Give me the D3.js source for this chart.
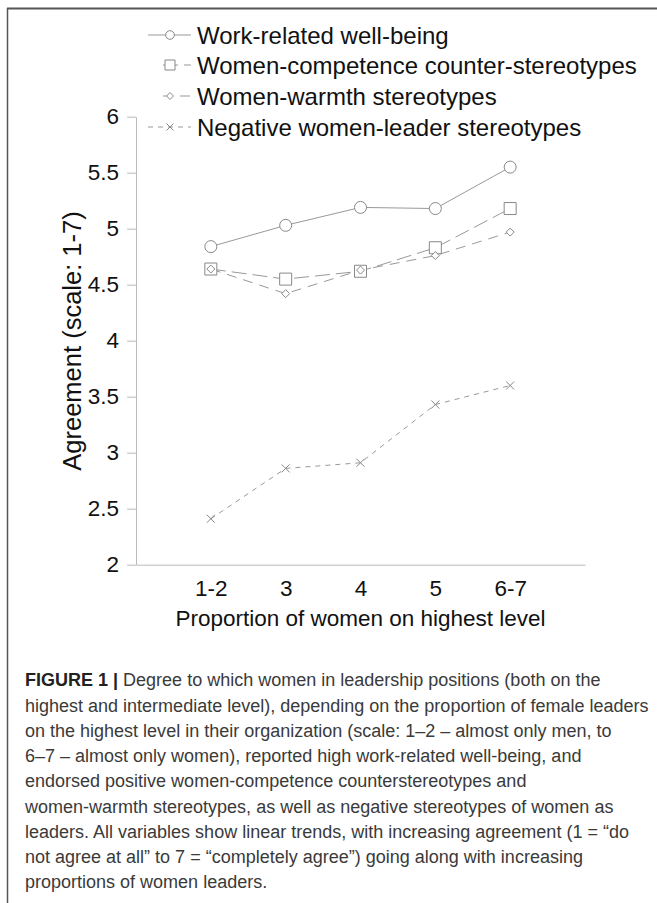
<!DOCTYPE html>
<html><head><meta charset="utf-8">
<script src="https://cdn.jsdelivr.net/npm/d3@7"></script>
<style>body{margin:0;background:#fff}svg{display:block}</style>
</head><body>
<svg id="c" width="657" height="903"></svg>
<script>
const categories = ["1-2", "3", "4", "5", "6-7"];
const wellBeing   = [4.84, 5.03, 5.19, 5.18, 5.55];
const competence  = [4.64, 4.55, 4.62, 4.83, 5.18];
const warmth      = [4.64, 4.42, 4.63, 4.76, 4.97];
const negative    = [2.41, 2.86, 2.91, 3.43, 3.60];
const seriesNames = ["Work-related well-being", "Women-competence counter-stereotypes", "Women-warmth stereotypes", "Negative women-leader stereotypes"];
const yTicks = [2, 2.5, 3, 3.5, 4, 4.5, 5, 5.5, 6];
const yTitle = "Agreement (scale: 1-7)";
const xTitle = "Proportion of women on highest level";
const captionBold = "FIGURE 1 |";
const captionLines = [
  " Degree to which women in leadership positions (both on the",
  "highest and intermediate level), depending on the proportion of female leaders",
  "on the highest level in their organization (scale: 1\u20132 \u2013 almost only men, to",
  "6\u20137 \u2013 almost only women), reported high work-related well-being, and",
  "endorsed positive women-competence counterstereotypes and",
  "women-warmth stereotypes, as well as negative stereotypes of women as",
  "leaders. All variables show linear trends, with increasing agreement (1 = \u201cdo",
  "not agree at all\u201d to 7 = \u201ccompletely agree\u201d) going along with increasing",
  "proportions of women leaders."
];

const svg = d3.select("#c");
const FONT = "'Liberation Sans', Arial, Helvetica, sans-serif";
const FS = 22.5;
const FS_LEG = 24;
const FS_YT = 25.5;

// frame
svg.append("line").attr("x1", 7).attr("x2", 657).attr("y1", 8.5).attr("y2", 8.5).attr("stroke", "#555").attr("stroke-width", 2);
svg.append("line").attr("x1", 7.5).attr("x2", 7.5).attr("y1", 8).attr("y2", 903).attr("stroke", "#555").attr("stroke-width", 1.5);

const x = d3.scalePoint().domain(categories).range([136, 585]).padding(1);
const y = d3.scaleLinear().domain([2, 6]).range([564.7, 116.7]);

// y axis
const ya = svg.append("g").attr("transform", "translate(136,0)")
  .call(d3.axisLeft(y).tickValues(yTicks).tickSize(9).tickSizeOuter(0).tickPadding(8).tickFormat(d3.format("")));
ya.select(".domain").attr("stroke", "#bbb");
ya.selectAll(".tick line").attr("stroke", "#bbb");
ya.selectAll("text").attr("font-family", FONT).attr("font-size", FS).attr("fill", "#111");

// x axis
const xa = svg.append("g").attr("transform", `translate(0,${y(2)})`)
  .call(d3.axisBottom(x).tickSize(0).tickSizeOuter(0).tickPadding(15));
xa.select(".domain").attr("stroke", "#bbb");
xa.selectAll("text").attr("font-family", FONT).attr("font-size", FS).attr("fill", "#111");

svg.append("text").attr("transform", "translate(81,341) rotate(-90)").attr("text-anchor", "middle")
  .attr("font-family", FONT).attr("font-size", FS_YT).attr("fill", "#111").text(yTitle);
svg.append("text").attr("x", 360.5).attr("y", 625.5).attr("text-anchor", "middle")
  .attr("font-family", FONT).attr("font-size", FS).attr("fill", "#111").text(xTitle);

// series
const markers = {
  circle: r => d3.symbol(d3.symbolCircle, Math.PI * r * r)(),
  square: r => `M${-r},${-r}H${r}V${r}H${-r}Z`,
  diamond: r => `M0,${-r}L${r},0L0,${r}L${-r},0Z`,
  cross: r => `M${-r},${-r}L${r},${r}M${-r},${r}L${r},${-r}`
};
const series = [
  {values: wellBeing, dash: null, marker: "circle", r: 6, lr: 4.3},
  {values: competence, dash: "15,6", marker: "square", r: 6, lr: 5},
  {values: warmth, dash: "10,7", marker: "diamond", r: 4, lr: 3.5},
  {values: negative, dash: "5,5", marker: "cross", r: 4, lr: 3.5}
];
const line = d3.line().x((d, i) => x(categories[i])).y(d => y(d));
series.forEach(s => {
  svg.append("path").attr("d", line(s.values)).attr("fill", "none").attr("stroke", "#999")
    .attr("stroke-width", 1).attr("stroke-dasharray", s.dash);
});
series.forEach(s => {
  svg.append("g").selectAll("path").data(s.values).join("path")
    .attr("transform", (d, i) => `translate(${x(categories[i])},${y(d)})`)
    .attr("d", markers[s.marker](s.r))
    .attr("fill", s.marker === "cross" ? "none" : "white").attr("stroke", "#888").attr("stroke-width", 1);
});

// legend
const legRows = [35, 65, 96, 127];
series.forEach((s, i) => {
  const g = svg.append("g").attr("transform", `translate(0,${legRows[i]})`);
  g.append("line").attr("x1", i === 1 || i === 2 ? 163 : 148).attr("x2", 191).attr("y1", 0).attr("y2", 0)
    .attr("stroke", "#999").attr("stroke-dasharray", s.dash);
  g.append("path").attr("transform", "translate(170,0)").attr("d", markers[s.marker](s.lr))
    .attr("fill", s.marker === "cross" ? "none" : "white").attr("stroke", "#888");
  g.append("text").attr("x", 197).attr("y", 8.5).attr("font-family", FONT).attr("font-size", FS_LEG)
    .attr("fill", "#111").text(seriesNames[i]);
});

// caption
const cap = svg.append("g");
const capTexts = captionLines.map((t, i) => {
  const tx = cap.append("text").attr("x", 25).attr("y", 686.5 + i * 25.25)
    .attr("font-family", FONT).attr("font-size", 18).attr("fill", "#3a3a3a");
  if (i === 0) tx.append("tspan").attr("font-weight", "bold").attr("fill", "#222").text(captionBold);
  tx.append("tspan").text(t);
  return tx;
});
const natural = capTexts[1].node().getComputedTextLength();
const k = (648.7 - 25) / natural;
capTexts.forEach(tx => tx.attr("transform", `translate(25,0) scale(${k},1) translate(-25,0)`));
</script>
</body></html>
